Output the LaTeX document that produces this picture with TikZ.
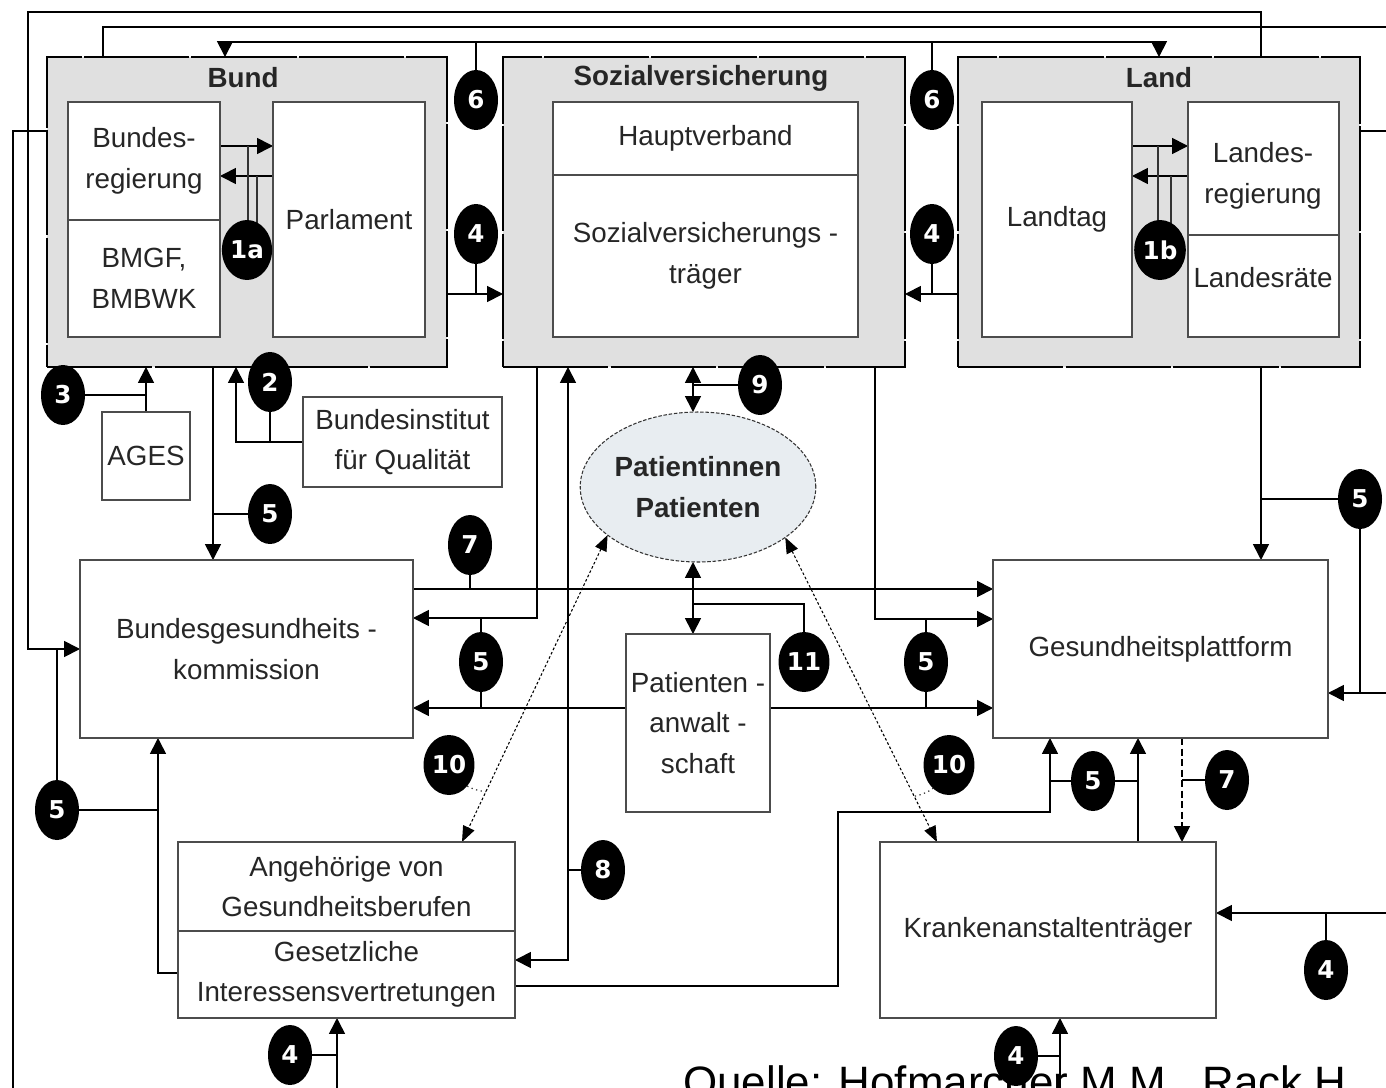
\documentclass[tikz,border=0pt]{standalone}
\usepackage{fontspec}
\setmainfont{Liberation Sans}
\newfontfamily\bubfont{DejaVu Sans}
\usetikzlibrary{arrows.meta,shapes.geometric,calc}
\pgfdeclarelayer{grp}
\pgfdeclarelayer{lines}
\pgfsetlayers{grp,lines,main}
\definecolor{grpfill}{RGB}{224,224,224}
\definecolor{patfill}{RGB}{232,237,241}
\newcommand\lbl{\fontsize{15.8}{23}\selectfont}
\newcommand\pbox[7][]{\node[box,minimum width=\fpeval{0.02*((#5)-(#3))}cm,minimum height=\fpeval{0.02*((#6)-(#4))}cm,#1] (#2) at ({((#3)+(#5))/2},{((#4)+(#6))/2}) {#7};}
\begin{document}
\begin{tikzpicture}[
  x=0.02cm, y=-0.02cm,
  box/.style={draw=black!70, line width=0.8pt, fill=white, inner sep=0pt, outer sep=0pt, align=center, font=\lbl, text=black!85},
  grp/.style={draw=black, line width=1.6pt, fill=grpfill, dash pattern=on 60pt off 1.2pt},
  bub/.style={ellipse, fill=black, text=white, inner sep=0.5pt, minimum width=0.88cm, minimum height=1.2cm, font=\bubfont\bfseries\fontsize{14}{14}\selectfont},
  con/.style={line width=0.9pt, draw=black},
  arr/.style={con, -{Triangle[length=9pt,width=9pt]}},
  darr/.style={con, {Triangle[length=9pt,width=9pt]}-{Triangle[length=9pt,width=9pt]}},
  lead/.style={line width=0.7pt, draw=black!80},
  dotl/.style={line width=0.6pt, dash pattern=on 1.5pt off 1.2pt, {Triangle[length=9pt,width=7pt]}-{Triangle[length=9pt,width=7pt]}},
  lab/.style={font=\lbl, align=center, inner sep=0pt, text=black!85},
  ttl/.style={font=\lbl\bfseries, inner sep=0pt, text=black!85},
]
\useasboundingbox (0,0) rectangle (1386,1088);

% group boxes
\begin{pgfonlayer}{grp}
\fill[white] (0,0) rectangle (1386,1088);
\pbox[grp]{bund}{47}{57}{447}{367}{}
\pbox[grp]{soz}{503}{57}{905}{367}{}
\pbox[grp]{land}{958}{57}{1360}{367}{}
\end{pgfonlayer}

\node[ttl] (bundT) at (243,78) {Bund};
\node[ttl] (sozT) at (701,78) {Sozialversicherung};
\node[ttl] (landT) at (1159,78) {Land};

% inner boxes
\pbox{breg}{68}{102}{220}{220}{Bundes-\\regierung}
\pbox{bmgf}{68}{220}{220}{337}{BMGF,\\BMBWK}
\pbox{parl}{273}{102}{425}{337}{Parlament}
\pbox{hv}{553}{102}{858}{175}{Hauptverband}
\pbox{svt}{553}{175}{858}{337}{Sozialversicherungs -\\träger}
\pbox{ltag}{982}{102}{1132}{337}{Landtag}
\pbox{lreg}{1188}{102}{1339}{235}{}
\pbox{lrat}{1188}{235}{1339}{337}{}
\node[lab] (lregT) at (1263,176) {Landes-\\regierung};
\node[lab] (lratT) at (1263,278) {Landesräte};

% lower boxes
\pbox{ages}{102}{412}{190}{500}{AGES}
\pbox{biq}{303}{397}{502}{487}{Bundesinstitut\\für Qualität}
\pbox{bgk}{80}{560}{413}{738}{Bundesgesundheits -\\kommission}
\pbox{gp}{993}{560}{1328}{738}{Gesundheitsplattform}
\pbox{pa}{626}{634}{770}{812}{Patienten -\\anwalt -\\schaft}
\pbox{ang}{178}{842}{515}{931}{Angehörige von\\Gesundheitsberufen}
\pbox{ges}{178}{931}{515}{1018}{Gesetzliche\\Interessensvertretungen}
\pbox{kat}{880}{842}{1216}{1018}{Krankenanstaltenträger}

\node[ellipse, draw=black!80, line width=0.6pt, dash pattern=on 2pt off 1pt, fill=patfill, minimum width=4.7cm, minimum height=3cm, inner sep=0pt, outer sep=0pt, align=center, font=\lbl\bfseries, text=black!85] (pat) at (698,487) {Patientinnen\\Patienten};

% source
\node[anchor=base west, inner sep=0pt, font=\fontsize{25}{25}\selectfont] (src) at (683,1097) {Quelle: Hofmarcher M.M., Rack H.};

% bubbles
\node[bub] (b6l) at (476,100) {6};
\node[bub] (b4l) at (476,234) {4};
\node[bub] (b1a) at (247,250) {1a};
\node[bub] (b6r) at (932,100) {6};
\node[bub] (b4r) at (932,234) {4};
\node[bub] (b1b) at (1160,250) {1b};
\node[bub] (b3) at (63,395) {3};
\node[bub] (b2) at (270,382) {2};
\node[bub] (b5a) at (270,514) {5};
\node[bub] (b7a) at (470,545) {7};
\node[bub] (b5b) at (481,662) {5};
\node[bub] (b9) at (760,385) {9};
\node[bub] (b11) at (804,662) {11};
\node[bub] (b5c) at (926,662) {5};
\node[bub] (b5d) at (1360,499) {5};
\node[bub] (b10l) at (449,765) {10};
\node[bub] (b10r) at (949,765) {10};
\node[bub] (b5e) at (57,810) {5};
\node[bub] (b8) at (603,870) {8};
\node[bub] (b5f) at (1093,781) {5};
\node[bub] (b7b) at (1227,780) {7};
\node[bub] (b4a) at (290,1055) {4};
\node[bub] (b4b) at (1016,1056) {4};
\node[bub] (b4c) at (1326,970) {4};

\begin{pgfonlayer}{lines}
% top lines
\draw[arr] (land.north -| 1261,0) |- (28,12) |- (bgk.west);
\draw[con] (bund.north -| 103,0) |- (1400,27);
\draw[darr] (bund.north -| 225,0) -- (225,42) -- (1159,42) -- (land.north -| 1159,0);
\draw[con] (b6l.center) -- (b6l.center |- 0,42);
\draw[con] (b6r.center) -- (b6r.center |- 0,42);
\draw[con] (bund.west |- 0,131) -| (13,1100);
\draw[con] (land.east |- 0,131) -- (1400,131);
% 1a / 1b
\draw[arr] (breg.east |- 0,146) -- (parl.west |- 0,146);
\draw[arr] (parl.west |- 0,176) -- (breg.east |- 0,176);
\draw[lead] (b1a.center -| 248,0) -- (248,146);
\draw[lead] (b1a.center -| 257,0) -- (257,176);
\draw[arr] (ltag.east |- 0,146) -- (lreg.west |- 0,146);
\draw[arr] (lreg.west |- 0,176) -- (ltag.east |- 0,176);
\draw[lead] (b1b.center -| 1158,0) -- (1158,146);
\draw[lead] (b1b.center -| 1171,0) -- (1171,176);
% 4 top
\draw[arr] (bund.east |- 0,294) -- (soz.west |- 0,294);
\draw[con] (b4l.center) -- (b4l.center |- 0,294);
\draw[arr] (land.west |- 0,294) -- (soz.east |- 0,294);
\draw[con] (b4r.center) -- (b4r.center |- 0,294);
% below Bund
\draw[arr] (ages.north) -- (ages.north |- bund.south);
\draw[con] (b3.center) -- (b3.center -| ages.north);
\draw[arr] (biq.west) -| (bund.south -| 236,0);
\draw[con] (b2.center) -- (b2.center |- biq.west);
\draw[arr] (bund.south -| 213,0) -- (bgk.north -| 213,0);
\draw[con] (b5a.center) -- (b5a.center -| 213,0);
% BGK - GP
\draw[arr] (bgk.east |- 0,589) -- (gp.west |- 0,589);
\draw[con] (b7a.center) -- (b7a.center |- 0,589);
\draw[arr] (soz.south -| 537,0) |- (bgk.east |- 0,618);
\draw[arr] (soz.south -| 875,0) |- (gp.west |- 0,619);
\draw[arr] (pa.west |- 0,708) -- (bgk.east |- 0,708);
\draw[arr] (pa.east |- 0,708) -- (gp.west |- 0,708);
\draw[con] (b5b.center |- 0,618) -- (b5b.center |- 0,708);
\draw[con] (b5c.center |- 0,619) -- (b5c.center |- 0,708);
% 8
\draw[darr] (soz.south -| 568,0) |- (ges.east |- 0,960);
\draw[con] (b8.center) -- (b8.center -| 568,0);
% 9
\draw[darr] (soz.south -| 693,0) -- (pat.north -| 693,0);
\draw[con] (b9.center) -- (b9.center -| 693,0);
% 11
\draw[darr] (pat.south -| 693,0) -- (pa.north -| 693,0);
\draw[con] (693,604) -| (b11.center);
% 10
\draw[dotl] (pat.208) -- (ang.north -| 462,0);
\draw[dotl] (pat.-30) -- (kat.north -| 937,0);
\coordinate (d1) at ($(pat.208)!0.836!(ang.north -| 462,0)$);
\coordinate (d2) at ($(pat.-30)!0.85!(kat.north -| 937,0)$);
\draw[lead, dotted] (b10l.center) to[bend right=30] (d1);
\draw[lead, dotted] (b10r.center) to[bend left=30] (d2);
% GP - KAT
\draw[arr, dash pattern=on 4pt off 2pt] (gp.south -| 1182,0) -- (kat.north -| 1182,0);
\draw[con] (b7b.center) -- (b7b.center -| 1182,0);
\draw[arr] (kat.north -| 1138,0) -- (gp.south -| 1138,0);
\draw[arr] (ges.east |- 0,986) -| (838,812) -| (gp.south -| 1050,0);
\draw[con] (b5f.center -| 1050,0) -- (b5f.center -| 1138,0);
\draw[arr] (ges.west |- 0,973) -| (bgk.south -| 158,0);
\draw[con] (b5e.center |- bgk.west) -- (b5e.center) -- (b5e.center -| 158,0);
% bottom / right
\draw[arr] (337,1100) -- (ges.south -| 337,0);
\draw[con] (b4a.center) -- (b4a.center -| 337,0);
\draw[arr] (1060,1100) -- (kat.south -| 1060,0);
\draw[con] (b4b.center) -- (b4b.center -| 1060,0);
\draw[arr] (1400,913) -- (kat.east |- 0,913);
\draw[con] (b4c.center) -- (b4c.center |- 0,913);
\draw[arr] (1400,693) -- (gp.east |- 0,693);
\draw[arr] (land.south -| 1261,0) -- (gp.north -| 1261,0);
\draw[con] (b5d.center -| 1261,0) -- (b5d.center);
\draw[con] (b5d.center) -- (b5d.center |- 0,693);
\end{pgfonlayer}
\end{tikzpicture}
\end{document}
